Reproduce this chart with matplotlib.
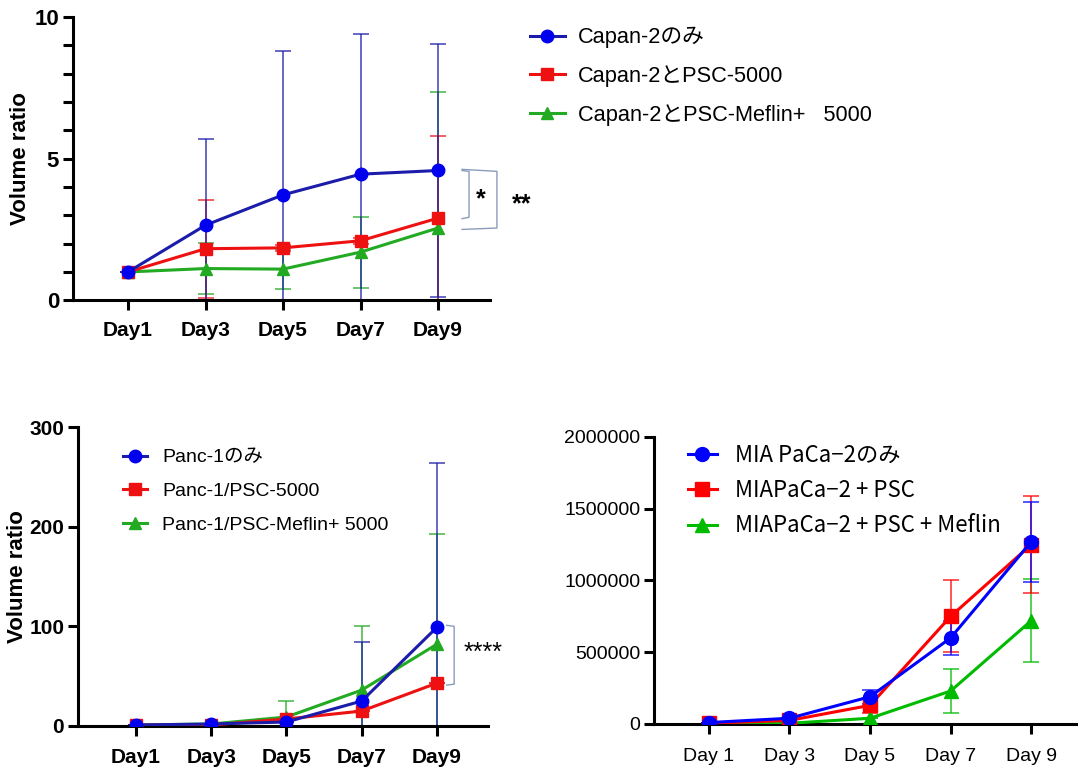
import matplotlib
matplotlib.use("Agg")
import matplotlib.pyplot as plt
from matplotlib.ticker import MultipleLocator
import numpy as np

FONT = ["Liberation Sans", "Noto Sans CJK JP", "DejaVu Sans"]
JP_FONT = ["Noto Sans CJK JP", "Liberation Sans", "DejaVu Sans"]
plt.rcParams["font.family"] = FONT

BLUE = "#0000ee"
BLUE_LINE = "#1c1caa"
RED = "#ee1111"
GREEN = "#22aa22"
BRACKET = "#8a9cbc"

days_a = ["Day1", "Day3", "Day5", "Day7", "Day9"]
days_b = ["Day 1", "Day 3", "Day 5", "Day 7", "Day 9"]

# Capan-2 (top)
capan_labels = ["Capan-2のみ", "Capan-2とPSC-5000", "Capan-2とPSC-Meflin+   5000"]
capan_alone = [1.0, 2.65, 3.72, 4.45, 4.58]
capan_alone_sd = [0.0, 3.05, 5.08, 4.95, 4.47]
capan_psc = [1.0, 1.82, 1.85, 2.1, 2.9]
capan_psc_sd = [0.0, 1.73, 0.1, 0.1, 2.9]
capan_meflin = [1.0, 1.12, 1.1, 1.7, 2.55]
capan_meflin_sd = [0.0, 0.9, 0.7, 1.25, 4.8]

# Panc-1 (bottom left)
panc_labels = ["Panc-1のみ", "Panc-1/PSC-5000", "Panc-1/PSC-Meflin+ 5000"]
panc_alone = [1, 2, 4, 25, 99]
panc_alone_sd = [0, 0, 0, 59, 165]
panc_psc = [1, 1, 7, 15, 43]
panc_psc_sd = [0, 0, 0, 0, 0]
panc_meflin = [1, 2, 9, 36, 82]
panc_meflin_sd = [0, 0, 16, 64, 111]

# MIA PaCa-2 (bottom right)
mia_labels = ["MIA PaCa−2のみ", "MIAPaCa−2 + PSC", "MIAPaCa−2 + PSC + Meflin"]
mia_alone = [10000, 40000, 190000, 600000, 1270000]
mia_alone_sd = [0, 0, 50000, 120000, 280000]
mia_psc = [5000, 25000, 130000, 750000, 1250000]
mia_psc_sd = [0, 0, 50000, 250000, 340000]
mia_meflin = [2000, 5000, 40000, 230000, 720000]
mia_meflin_sd = [0, 0, 0, 150000, 290000]


def style_axes(ax, xlabels, bold=True, ysize=15, xsize=15, xpad=9):
    for s in ["top", "right"]:
        ax.spines[s].set_visible(False)
    for s in ["left", "bottom"]:
        ax.spines[s].set_linewidth(2.2)
    ax.tick_params(axis="y", width=2.2, length=7, labelsize=ysize, pad=3)
    ax.tick_params(axis="x", width=2.2, length=7, labelsize=xsize, pad=xpad)
    ax.set_xticks(range(len(xlabels)))
    ax.set_xticklabels(xlabels, fontweight="bold" if bold else "normal")
    for t in ax.get_yticklabels():
        t.set_fontweight("bold" if bold else "normal")


def draw_series(ax, values, sds, labels, colors, line_colors, ms=9):
    x = np.arange(len(values[0]))
    handles = []
    order = [2, 1, 0]
    markers = ["o", "s", "^"]
    for i in order:
        ax.errorbar(x, values[i], yerr=sds[i], fmt="none", ecolor=line_colors[i],
                    elinewidth=1.1, capsize=6, capthick=1.1, alpha=0.85, zorder=2)
    for i in order:
        h, = ax.plot(x, values[i], color=line_colors[i], lw=2.2, marker=markers[i],
                     ms=ms, mfc=colors[i], mec=colors[i], label=labels[i], zorder=3 + (2 - i))
        handles.append((i, h))
    handles.sort()
    return [h for _, h in handles]


fig = plt.figure(figsize=(10.78, 7.68), dpi=100)
fig.patch.set_facecolor("white")

# ---- top panel ----
ax1 = fig.add_axes([0.0677, 0.609, 0.3868, 0.369])
hs = draw_series(ax1, [capan_alone, capan_psc, capan_meflin],
                 [capan_alone_sd, capan_psc_sd, capan_meflin_sd], capan_labels,
                 [BLUE, RED, GREEN], [BLUE_LINE, RED, GREEN])
ax1.set_ylim(0, 10)
ax1.set_xlim(-0.71, 4.67)
ax1.set_yticks([0, 5, 10])
ax1.yaxis.set_minor_locator(MultipleLocator(1))
style_axes(ax1, days_a, ysize=16, xsize=15, xpad=8)
ax1.tick_params(axis="y", which="minor", width=2.2, length=7)
ax1.set_ylabel("Volume ratio", fontsize=16, fontweight="bold")
ax1.yaxis.set_label_coords(-0.1, 0.5)
fig.legend(handles=hs, loc="upper left", bbox_to_anchor=(0.4917, 0.965), frameon=False,
           fontsize=15.7, handlelength=1.6, labelspacing=0.77, handletextpad=0.6,
           borderpad=0, borderaxespad=0)
# significance brackets
ax1.plot([4.31, 4.40, 4.40, 4.31], [4.58, 4.55, 2.93, 2.88], color=BRACKET, lw=1.0, clip_on=False)
ax1.plot([4.31, 4.76, 4.76, 4.31], [4.62, 4.55, 2.55, 2.5], color=BRACKET, lw=1.0, clip_on=False)
ax1.text(4.55, 3.55, "*", fontsize=18, fontweight="bold", ha="center", va="center")
ax1.text(5.08, 3.37, "**", fontsize=18, fontweight="bold", ha="center", va="center")

# ---- bottom left ----
ax2 = fig.add_axes([0.0724, 0.0547, 0.3803, 0.3893])
hs = draw_series(ax2, [panc_alone, panc_psc, panc_meflin],
                 [panc_alone_sd, panc_psc_sd, panc_meflin_sd], panc_labels,
                 [BLUE, RED, GREEN], [BLUE_LINE, RED, GREEN])
ax2.set_ylim(0, 300)
ax2.set_xlim(-0.77, 4.68)
ax2.set_yticks([0, 100, 200, 300])
style_axes(ax2, days_a, ysize=15, xsize=15, xpad=9)
ax2.set_ylabel("Volume ratio", fontsize=16, fontweight="bold")
ax2.yaxis.set_label_coords(-0.122, 0.5)
fig.legend(handles=hs, loc="upper left", bbox_to_anchor=(0.1141, 0.4154), frameon=False,
           fontsize=14, handlelength=1.25, labelspacing=0.82, handletextpad=0.77,
           borderpad=0, borderaxespad=0)
ax2.plot([4.13, 4.23, 4.23, 4.13], [101, 100, 42, 41], color=BRACKET, lw=1.0, clip_on=False)
ax2.text(4.61, 73, "****", fontsize=18, ha="center", va="center")

# ---- bottom right ----
ax3 = fig.add_axes([0.6067, 0.0573, 0.3933, 0.3737])
hs = draw_series(ax3, [mia_alone, mia_psc, mia_meflin],
                 [mia_alone_sd, mia_psc_sd, mia_meflin_sd], mia_labels,
                 ["#0000ff", "#ff0000", "#00bb00"], ["#0000ff", "#ff0000", "#00bb00"], ms=10)
ax3.set_ylim(0, 2000000)
ax3.set_xlim(-0.68, 4.58)
ax3.set_yticks([0, 500000, 1000000, 1500000, 2000000])
ax3.set_yticklabels(["0", "500000", "1000000", "1500000", "2000000"])
style_axes(ax3, days_b, bold=False, ysize=14, xsize=14, xpad=10)
fig.legend(handles=hs, loc="upper left", bbox_to_anchor=(0.6382, 0.4225), frameon=False,
           handlelength=1.3, labelspacing=0.56, handletextpad=0.8,
           borderpad=0, borderaxespad=0, prop={"family": JP_FONT, "size": 16})

fig.savefig("out.png", dpi=100, facecolor="white")
